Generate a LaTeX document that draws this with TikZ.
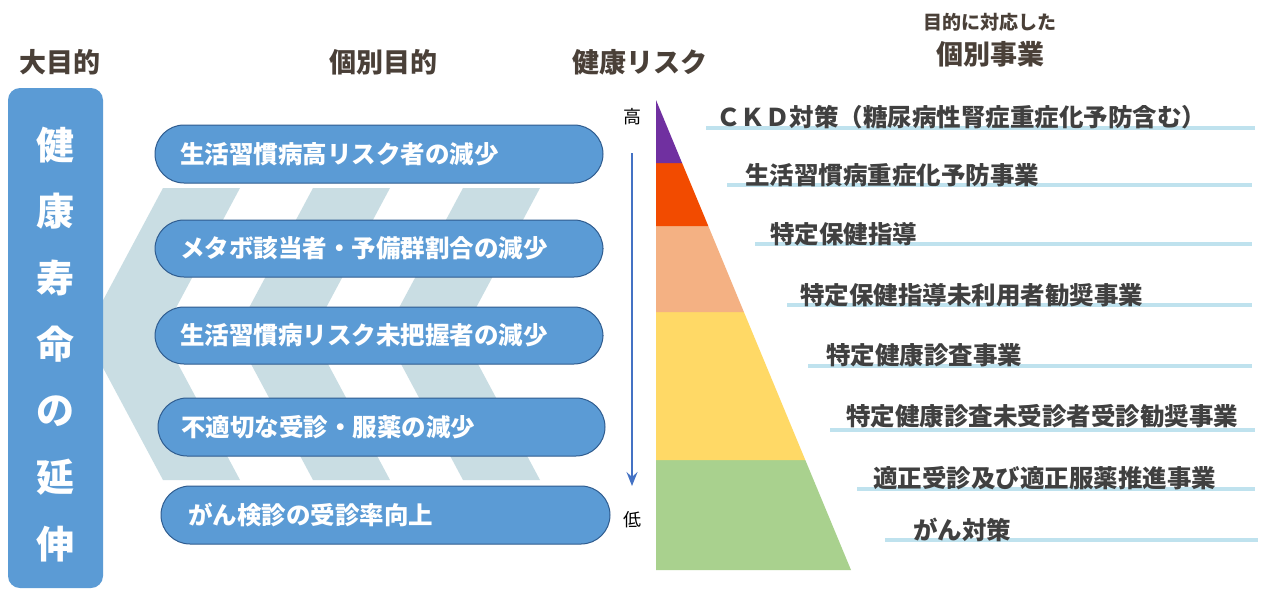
\documentclass[tikz,border=0pt]{standalone}
\usepackage{fontspec}
\setmainfont{Noto Sans CJK JP}
\usetikzlibrary{arrows.meta}
\definecolor{boxblue}{HTML}{5B9BD5}
\definecolor{pillline}{HTML}{2F5C8F}
\definecolor{chevcol}{HTML}{C9DDE3}
\definecolor{titlecol}{HTML}{4A4038}
\definecolor{labelcol}{HTML}{404040}
\definecolor{ulcol}{HTML}{BFE2EE}
\definecolor{arrowcol}{HTML}{4472C4}
\definecolor{lvA}{HTML}{7030A0}
\definecolor{lvB}{HTML}{F24B00}
\definecolor{lvC}{HTML}{F4B183}
\definecolor{lvD}{HTML}{FFD966}
\definecolor{lvE}{HTML}{A9D18E}
\begin{document}
\begin{tikzpicture}[x=1pt,y=-1pt,
  title/.style={font=\bfseries\fontsize{27}{30}\selectfont, text=titlecol, inner sep=0pt},
  pill/.style={draw=pillline, line width=1pt, fill=boxblue, rounded corners=29pt},
  pilltext/.style={font=\bfseries\fontsize{24.5}{28}\selectfont, text=white, anchor=west, inner sep=0pt},
  label/.style={font=\bfseries\fontsize{24.5}{28}\selectfont, text=labelcol, anchor=west, inner sep=0pt},
  uline/.style={draw=ulcol, line width=3.5pt},
  chev/.style={fill=chevcol},
  bigchar/.style={font=\bfseries\fontsize{38}{40}\selectfont, text=white, inner sep=0pt},
  lvtext/.style={font=\fontsize{18}{20}\selectfont, text=black, inner sep=0pt}
]
\useasboundingbox (0,0) rectangle (1263,590);
\fill[white] (0,0) rectangle (1263,590);

% chevrons
\foreach \o in {0,150,300}{
  \fill[chev] (163+\o,188) -- (240+\o,188) -- (162+\o,334) -- (240+\o,480)
     -- (163+\o,480) -- (85+\o,334) -- cycle;
}

% titles
\node[title] (t1) at (60,62) {大目的};
\node[title] (t2) at (383,62) {個別目的};
\node[title] (t3) at (640,62) {健康リスク};
\node[title, font=\bfseries\fontsize{19}{20}\selectfont] (t4) at (990,22) {目的に対応した};
\node[title] (t5) at (990,54) {個別事業};

% big left box
\fill[boxblue, rounded corners=12pt] (8,88) rectangle (103,588);
\coordinate (bigbox) at (55,338);
\foreach \c [count=\i] in {健,康,寿,命,の,延,伸}{
  \node[bigchar] (bc\i) at (55,145+66.5*\i-66.5) {\c};
}

% pills
\draw[pill] (155,125) rectangle (603,183);
\node[pilltext] (p1) at (180,154) {生活習慣病高リスク者の減少};
\draw[pill] (155,220) rectangle (603,277);
\node[pilltext] (p2) at (180,248.5) {メタボ該当者・予備群割合の減少};
\draw[pill] (155,307) rectangle (603,364);
\node[pilltext] (p3) at (180,335.5) {生活習慣病リスク未把握者の減少};
\draw[pill] (158,398) rectangle (605,456);
\node[pilltext] (p4) at (181,427) {不適切な受診・服薬の減少};
\draw[pill] (161,486) rectangle (610,544);
\node[pilltext] (p5) at (188,515) {がん検診の受診率向上};

% risk arrow
\node[lvtext] (hi) at (632,117) {高};
\node[lvtext] (lo) at (632,520) {低};
\coordinate (ar1) at (632,153);
\coordinate (ar2) at (632,486);
\draw[arrowcol, line width=1.8pt, -{Stealth[length=14pt,width=11pt,inset=5pt]}] (ar1) -- (ar2);

% pyramid
\fill[lvE] (656,460) -- (805.3,460) -- (851,570) -- (656,570) -- cycle;
\fill[lvD] (656,312) -- (743.9,312) -- (805.3,460) -- (656,460) -- cycle;
\fill[lvC] (656,226) -- (708.3,226) -- (743.9,312) -- (656,312) -- cycle;
\fill[lvB] (656,163) -- (682.1,163) -- (708.3,226) -- (656,226) -- cycle;
\fill[lvA] (656,100) -- (682.1,163) -- (656,163) -- cycle;

% underlines
\draw[uline] (706,128) -- (1255,128);
\draw[uline] (727,185) -- (1252,185);
\draw[uline] (755,244) -- (1252,244);
\draw[uline] (787,305) -- (1252,305);
\draw[uline] (808,366) -- (1252,366);
\draw[uline] (830,430) -- (1255,430);
\draw[uline] (857,489) -- (1255,489);
\draw[uline] (885,540) -- (1258,540);

% labels
\node[label] (l1) at (716,117) {ＣＫＤ対策（糖尿病性腎症重症化予防含む）};
\node[label] (l2) at (745,175) {生活習慣病重症化予防事業};
\node[label] (l3) at (770,234) {特定保健指導};
\node[label] (l4) at (800,295) {特定保健指導未利用者勧奨事業};
\node[label] (l5) at (826,355) {特定健康診査事業};
\node[label] (l6) at (846,416) {特定健康診査未受診者受診勧奨事業};
\node[label] (l7) at (873,478) {適正受診及び適正服薬推進事業};
\node[label] (l8) at (913,530) {がん対策};
\end{tikzpicture}
\end{document}
